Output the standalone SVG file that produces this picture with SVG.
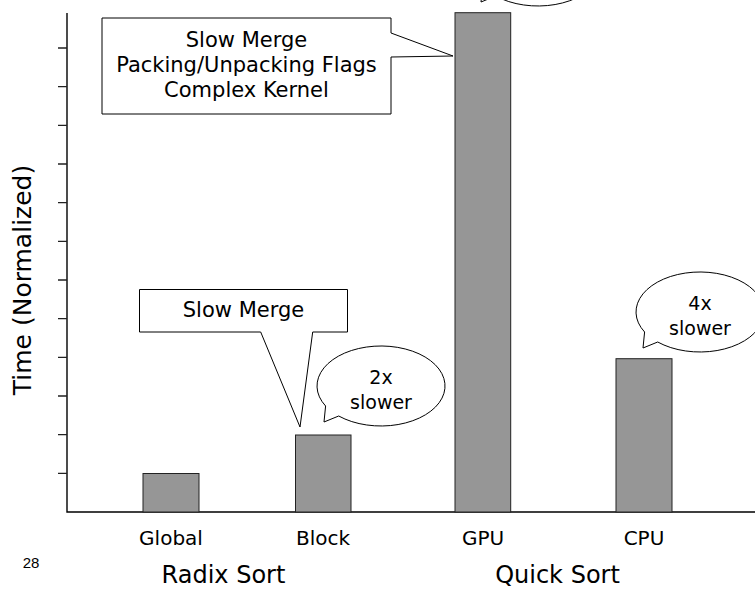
<svg xmlns="http://www.w3.org/2000/svg" width="755" height="589" viewBox="0 0 755 589">
<style>
text{font-family:"DejaVu Sans",Verdana,sans-serif;fill:#000}
.bar{fill:#969696;stroke:#222;stroke-width:1}
.ax{stroke:#000;stroke-width:1.4;fill:none}
.tk{stroke:#222;stroke-width:1.3}
.co{fill:#fff;stroke:#000;stroke-width:1}
.lb{font-size:21px;text-anchor:middle}
.bt{font-size:19px;text-anchor:middle}
.xl{font-size:20px;text-anchor:middle}
.gl{font-size:24px;text-anchor:middle}
</style>
<rect width="755" height="589" fill="#fff"/>
<g id="axes">
<path class="ax" d="M67 13V512H755"/>
<path class="tk" d="M58 48H67M58 86.7H67M58 125.3H67M58 164H67M58 202.7H67M58 241.3H67M58 280H67M58 318.7H67M58 357.3H67M58 396H67M58 434.7H67M58 473.3H67"/>
<text class="gl" transform="translate(31 280) rotate(-90)" style="font-size:25px">Time (Normalized)</text>
</g>
<g id="bars">
<rect id="bar-global" class="bar" x="143" y="473.5" width="56" height="38.5"/>
<rect id="bar-block" class="bar" x="295.5" y="435" width="55.5" height="77"/>
<rect id="bar-gpu" class="bar" x="455" y="12.7" width="55.7" height="499.3"/>
<rect id="bar-cpu" class="bar" x="616" y="358.7" width="56" height="153.3"/>
</g>
<g id="labels">
<text class="xl" x="171" y="545">Global</text>
<text class="xl" x="323" y="545">Block</text>
<text class="xl" x="483" y="545">GPU</text>
<text class="xl" x="644" y="545">CPU</text>
<text class="gl" x="223.5" y="583">Radix Sort</text>
<text class="gl" x="557.5" y="583">Quick Sort</text>
<text x="31" y="568" style="font-family:'Liberation Sans',Arial,sans-serif;font-size:15px;text-anchor:middle">28</text>
</g>
<g id="callout-gpu">
<path class="co" d="M102 18H391V33L453 56L391 57V114H102Z"/>
<text class="lb" x="246.5" y="46.5">Slow Merge</text>
<text class="lb" x="246.5" y="71.5">Packing/Unpacking Flags</text>
<text class="lb" x="246.5" y="96.5">Complex Kernel</text>
</g>
<g id="callout-block">
<path class="co" d="M139.5 289.5H347.5V332H312.7L300 427L260.7 332H139.5Z"/>
<text class="lb" x="243.5" y="317">Slow Merge</text>
</g>
<g id="bubble-top">
<path class="co" d="M481 2L482.6 -14A64 40 0 1 1 495.7 -4Z"/>
</g>
<g id="bubble-2x">
<path class="co" d="M324 422L325.6 406A64 40 0 1 1 338.7 416Z"/>
<text class="bt" x="381" y="384">2x</text>
<text class="bt" x="381" y="409">slower</text>
</g>
<g id="bubble-4x">
<path class="co" d="M643 348L644.6 332A64 40 0 1 1 657.7 342Z"/>
<text class="bt" x="700" y="310">4x</text>
<text class="bt" x="700" y="335">slower</text>
</g>
</svg>
